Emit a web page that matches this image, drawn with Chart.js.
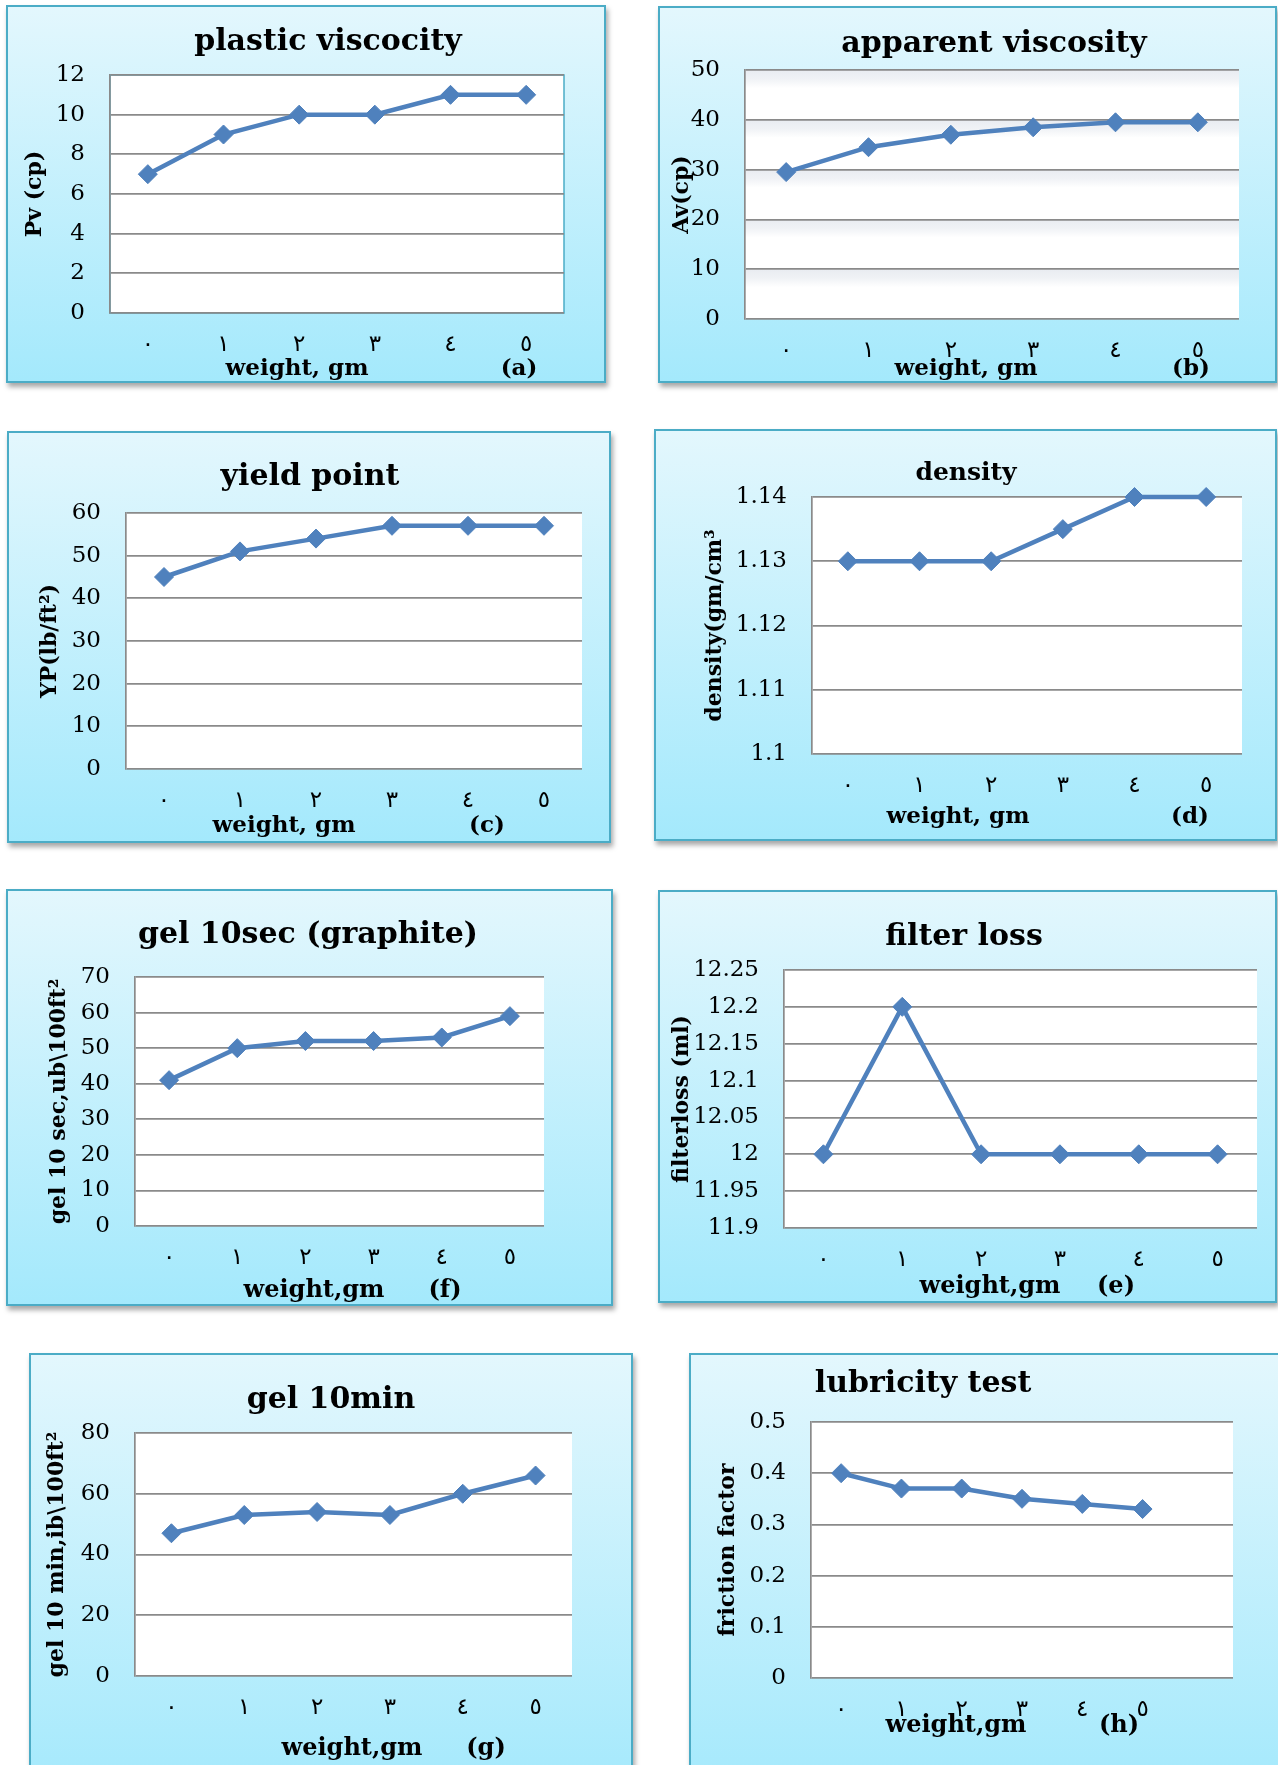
<!DOCTYPE html>
<html>
<head>
<meta charset="utf-8">
<title>Mud properties versus additive weight</title>
<script src="https://cdn.jsdelivr.net/npm/chart.js@4.4.1/dist/chart.umd.min.js"></script>
<style>
  html, body { margin: 0; padding: 0; background: #ffffff; }
  body { width: 1278px; height: 1765px; position: relative; overflow: hidden; }
  .panel {
    position: absolute;
    box-sizing: border-box;
    border: 2px solid #4bacc6;
    background: linear-gradient(to bottom, #e3f7fd 0%, #a4e9fc 100%);
    box-shadow: 2px 4px 5px rgba(0, 0, 0, 0.35);
  }
  .panel canvas { position: absolute; left: -2px; top: -2px; }
</style>
</head>
<body>
<script>
// ---- data -------------------------------------------------------------
const weights = ['٠', '١', '٢', '٣', '٤', '٥'];
const lubricityWeights = ['٠', '١', '٢', '٣', '٤', '٥', ''];

const plasticViscosity = [7, 9, 10, 10, 11, 11];
const apparentViscosity = [29.5, 34.5, 37, 38.5, 39.5, 39.5];
const yieldPoint = [45, 51, 54, 57, 57, 57];
const density = [1.13, 1.13, 1.13, 1.135, 1.14, 1.14];
const gel10sec = [41, 50, 52, 52, 53, 59];
const filterLoss = [12, 12.2, 12, 12, 12, 12];
const gel10min = [47, 53, 54, 53, 60, 66];
const frictionFactor = [0.40, 0.37, 0.37, 0.35, 0.34, 0.33, null];

const pvTicks = [0, 2, 4, 6, 8, 10, 12];
const avTicks = [0, 10, 20, 30, 40, 50];
const ypTicks = [0, 10, 20, 30, 40, 50, 60];
const densityTicks = [1.1, 1.11, 1.12, 1.13, 1.14];
const gel10secTicks = [0, 10, 20, 30, 40, 50, 60, 70];
const filterLossTicks = [11.9, 11.95, 12, 12.05, 12.1, 12.15, 12.2, 12.25];
const gel10minTicks = [0, 20, 40, 60, 80];
const frictionTicks = [0, 0.1, 0.2, 0.3, 0.4, 0.5];

// ---- panel layout (page pixels) ---------------------------------------
const panels = [
  { title: 'plastic viscocity', yTitle: 'Pv (cp)', xTitle: 'weight, gm', tag: '(a)',
    labels: weights, values: plasticViscosity, ticks: pvTicks,
    box: [6, 5, 606, 383], plot: [110, 75, 564, 313],
    titleAt: [328, 50], titleSize: 30, yTitleX: 35,
    xTitleAt: [297, 375], tagAt: [519, 375], axisSize: 23, framed: true },
  { title: 'apparent viscosity', yTitle: 'Av(cp)', xTitle: 'weight, gm', tag: '(b)',
    labels: weights, values: apparentViscosity, ticks: avTicks,
    box: [658, 6, 1277, 383], plot: [745, 70, 1239, 319],
    titleAt: [994, 52], titleSize: 30, yTitleX: 682,
    xTitleAt: [966, 375], tagAt: [1191, 375], axisSize: 23, glow: true },
  { title: 'yield point', yTitle: 'YP(lb/ft²)', xTitle: 'weight, gm', tag: '(c)',
    labels: weights, values: yieldPoint, ticks: ypTicks,
    box: [7, 431, 611, 843], plot: [126, 513, 582, 769],
    titleAt: [310, 485], titleSize: 30, yTitleX: 50,
    xTitleAt: [284, 832], tagAt: [487, 832], axisSize: 23 },
  { title: 'density', yTitle: 'density(gm/cm³', xTitle: 'weight, gm', tag: '(d)',
    labels: weights, values: density, ticks: densityTicks,
    box: [654, 429, 1277, 841], plot: [812, 497, 1242, 754],
    titleAt: [966, 480], titleSize: 25, yTitleX: 715,
    xTitleAt: [958, 823], tagAt: [1190, 823], axisSize: 23 },
  { title: 'gel 10sec (graphite)', yTitle: 'gel 10 sec,ub\\100ft²', xTitle: 'weight,gm', tag: '(f)',
    labels: weights, values: gel10sec, ticks: gel10secTicks,
    box: [6, 889, 613, 1306], plot: [135, 977, 544, 1226],
    titleAt: [308, 943], titleSize: 30, yTitleX: 59,
    xTitleAt: [314, 1297], tagAt: [445, 1297], axisSize: 24 },
  { title: 'filter loss', yTitle: 'filterloss (ml)', xTitle: 'weight,gm', tag: '(e)',
    labels: weights, values: filterLoss, ticks: filterLossTicks,
    box: [658, 890, 1277, 1303], plot: [784, 970, 1257, 1228],
    titleAt: [964, 945], titleSize: 30, yTitleX: 682,
    xTitleAt: [990, 1293], tagAt: [1116, 1293], axisSize: 24 },
  { title: 'gel 10min', yTitle: 'gel 10 min,ib\\100ft²', xTitle: 'weight,gm', tag: '(g)',
    labels: weights, values: gel10min, ticks: gel10minTicks,
    box: [29, 1353, 633, 1795], plot: [135, 1433, 572, 1676],
    titleAt: [331, 1408], titleSize: 30, yTitleX: 57,
    xTitleAt: [352, 1755], tagAt: [486, 1755], axisSize: 24 },
  { title: 'lubricity test', yTitle: 'friction factor', xTitle: 'weight,gm', tag: '(h)',
    labels: lubricityWeights, values: frictionFactor, ticks: frictionTicks,
    box: [689, 1353, 1295, 1795], plot: [811, 1422, 1233, 1678],
    titleAt: [923, 1392], titleSize: 30, yTitleX: 728,
    xTitleAt: [956, 1732], tagAt: [1119, 1732], axisSize: 24 }
];

const SERIF = '"DejaVu Serif", "Liberation Serif", serif';
const LINE_BLUE = '#4f81bd';
const GRID_GREY = '#8a8a8a';

// White plot area, optional frame / soft bands, and the panel texts.
const panelText = {
  id: 'panelText',
  beforeDraw(chart, args, o) {
    const { ctx, chartArea: a } = chart;
    ctx.save();
    ctx.fillStyle = '#ffffff';
    ctx.fillRect(a.left, a.top, a.right - a.left, a.bottom - a.top);
    if (o.glow) {
      const y = chart.scales.y;
      y.ticks.forEach(t => {
        const py = y.getPixelForValue(t.value);
        const g = ctx.createLinearGradient(0, py, 0, py + 18);
        g.addColorStop(0, 'rgba(205,212,224,0.45)');
        g.addColorStop(0.5, 'rgba(205,212,224,0.3)');
        g.addColorStop(1, 'rgba(205,212,224,0)');
        ctx.fillStyle = g;
        ctx.fillRect(a.left, py, a.right - a.left, Math.min(18, a.bottom - py));
      });
    }
    if (o.framed) {
      ctx.strokeStyle = '#4bacc6';
      ctx.lineWidth = 1.5;
      ctx.strokeRect(a.left, a.top, a.right - a.left, a.bottom - a.top);
    }
    ctx.restore();
  },
  afterDraw(chart, args, o) {
    const ctx = chart.ctx;
    ctx.save();
    ctx.fillStyle = '#000000';
    ctx.textAlign = 'center';
    ctx.textBaseline = 'alphabetic';
    ctx.font = 'bold ' + o.titleSize + 'px ' + SERIF;
    ctx.fillText(o.text, o.titleX, o.titleY);
    ctx.font = 'bold ' + o.axisSize + 'px ' + SERIF;
    ctx.fillText(o.xText, o.xTitleX, o.xTitleY);
    ctx.fillText(o.tagText, o.tagX, o.tagY);
    ctx.restore();
  }
};

panels.forEach(p => {
  const [L, T, R, B] = p.box;
  const W = R - L, H = B - T;
  const [pl, pt, pr, pb] = [p.plot[0] - L, p.plot[1] - T, p.plot[2] - L, p.plot[3] - T];

  const div = document.createElement('div');
  div.className = 'panel';
  div.style.left = L + 'px';
  div.style.top = T + 'px';
  div.style.width = W + 'px';
  div.style.height = H + 'px';
  const canvas = document.createElement('canvas');
  canvas.width = W;
  canvas.height = H;
  canvas.style.width = W + 'px';
  canvas.style.height = H + 'px';
  div.appendChild(canvas);
  document.body.appendChild(div);

  const yTitleSize = 22;
  new Chart(canvas, {
    type: 'line',
    data: {
      labels: p.labels,
      datasets: [{
        data: p.values,
        borderColor: LINE_BLUE,
        backgroundColor: LINE_BLUE,
        borderWidth: 4.5,
        pointStyle: 'rectRot',
        pointRadius: 9.5,
        pointBorderWidth: 1,
        pointBackgroundColor: LINE_BLUE,
        pointBorderColor: LINE_BLUE,
        tension: 0,
        spanGaps: false,
        clip: false
      }]
    },
    options: {
      responsive: false,
      animation: false,
      devicePixelRatio: 1,
      layout: { padding: { left: 0, top: pt, right: W - pr, bottom: 0 } },
      plugins: {
        legend: { display: false },
        title: { display: false },
        tooltip: { enabled: false },
        panelText: {
          text: p.title, titleSize: p.titleSize,
          titleX: p.titleAt[0] - L, titleY: p.titleAt[1] - T,
          xText: p.xTitle, axisSize: p.axisSize,
          xTitleX: p.xTitleAt[0] - L, xTitleY: p.xTitleAt[1] - T,
          tagText: p.tag, tagX: p.tagAt[0] - L, tagY: p.tagAt[1] - T,
          glow: !!p.glow, framed: !!p.framed
        }
      },
      scales: {
        x: {
          type: 'category',
          offset: true,
          grid: { display: false, drawTicks: false },
          border: { display: false },
          ticks: {
            color: '#000000',
            padding: 21,
            maxRotation: 0,
            autoSkip: false,
            font: { family: '"DejaVu Sans", "Noto Sans", sans-serif', size: 23, lineHeight: 1 }
          },
          afterFit(scale) { scale.height = H - pb; }
        },
        y: {
          type: 'linear',
          min: p.ticks[0],
          max: p.ticks[p.ticks.length - 1],
          afterBuildTicks(scale) { scale.ticks = p.ticks.map(v => ({ value: v })); },
          grid: { color: GRID_GREY, lineWidth: 1.7, drawTicks: false },
          border: { display: true, color: GRID_GREY, width: 1.7 },
          ticks: {
            color: '#000000',
            padding: 25,
            font: { family: SERIF, size: 23, lineHeight: 1 },
            callback: v => String(v)
          },
          title: {
            display: true,
            text: p.yTitle,
            color: '#000000',
            font: { family: SERIF, size: yTitleSize, weight: 'bold', lineHeight: 1 },
            padding: { top: (p.yTitleX - L) - yTitleSize / 2, bottom: 0 }
          },
          afterFit(scale) { scale.width = pl; }
        }
      }
    },
    plugins: [panelText]
  });
});
</script>
</body>
</html>
